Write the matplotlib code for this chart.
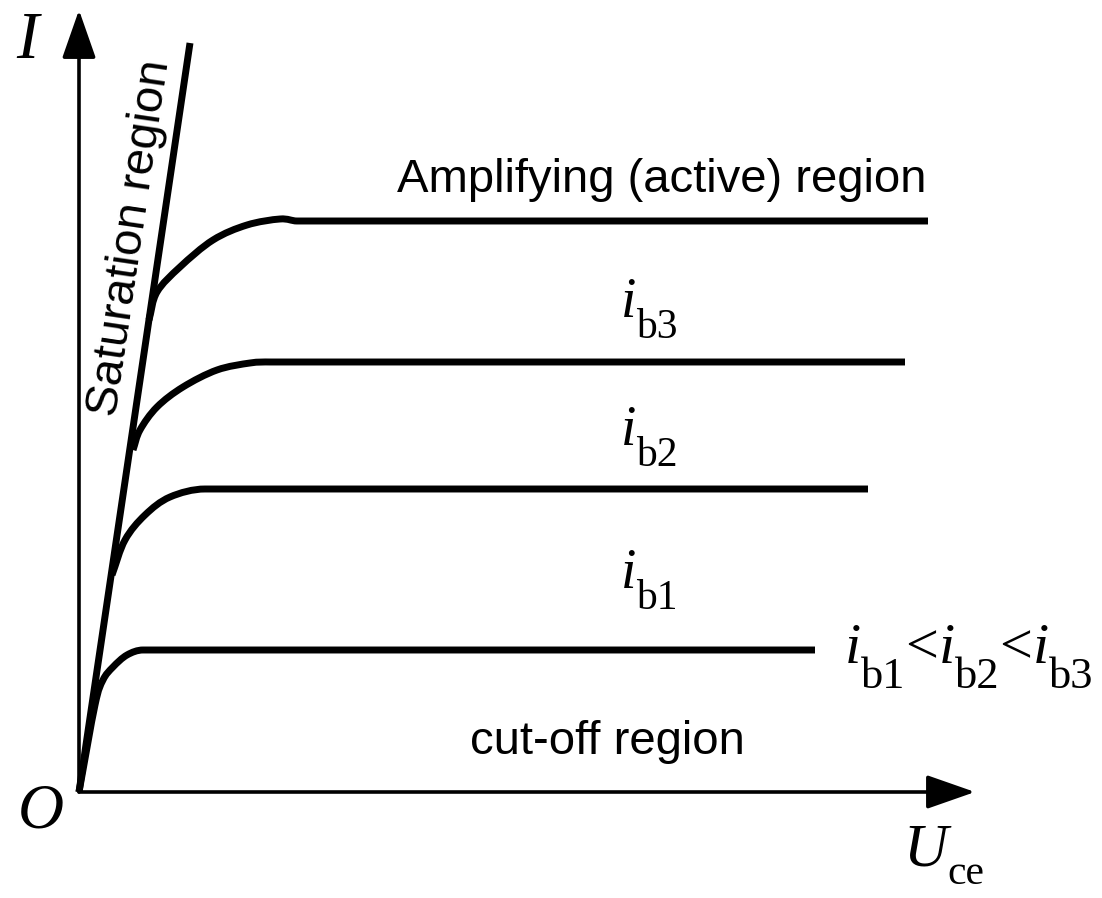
import matplotlib
matplotlib.use("Agg")
import matplotlib.pyplot as plt
import matplotlib.transforms as mtransforms
from matplotlib.path import Path
from matplotlib.patches import PathPatch
import numpy as np

plt.rcParams["font.family"] = ["Liberation Sans", "DejaVu Sans"]

# Saturation boundary (straight line from the origin)
sat_u = [0.0, 11.1]
sat_i = [0.0, 74.9]

# Output characteristics: knee points,
# followed by the end of the flat (active-region) part
curve1_u = [0.0, 1.6, 2.4, 3.4, 4.8, 6.4, 73.6]
curve1_i = [0.0, 8.7, 11.2, 12.5, 13.7, 14.2, 14.2]

curve2_u = [3.3, 4.6, 6.6, 9.1, 12.6, 78.9]
curve2_i = [21.7, 25.2, 27.7, 29.5, 30.3, 30.3]

curve3_u = [5.4, 6.1, 7.8, 10.4, 13.8, 17.1, 19.1, 82.6]
curve3_i = [34.2, 36.2, 38.5, 40.5, 42.2, 42.9, 43.0, 43.0]

curve4_u = [7.0, 7.8, 10.1, 13.4, 16.8, 20.1, 21.8, 84.9]
curve4_i = [47.2, 50.0, 52.5, 55.2, 56.7, 57.3, 57.1, 57.1]

curves = [(curve1_u, curve1_i), (curve2_u, curve2_i),
          (curve3_u, curve3_i), (curve4_u, curve4_i)]

fig = plt.figure(figsize=(11.02, 8.98), dpi=100)
ax = fig.add_axes([0, 0, 1, 1])
ax.set_xlim(-7.9, 102.3)
ax.set_ylim(-10.6, 79.2)
ax.axis("off")


def knee_path(u, i):
    """Smooth cubic path through the knee points, then straight to the end."""
    pts = np.column_stack([u, i]).astype(float)
    knee, end = pts[:-1], pts[-1]
    n = len(knee)
    tang = np.zeros_like(knee)
    tang[0] = knee[1] - knee[0]
    for k in range(1, n - 1):
        tang[k] = (knee[k + 1] - knee[k - 1]) / 2.0
    tang[-1] = [np.hypot(*(knee[-1] - knee[-2])), 0.0]
    verts = [knee[0]]
    codes = [Path.MOVETO]
    for k in range(n - 1):
        verts += [knee[k] + tang[k] / 3.0, knee[k + 1] - tang[k + 1] / 3.0,
                  knee[k + 1]]
        codes += [Path.CURVE4] * 3
    verts.append(end)
    codes.append(Path.LINETO)
    return Path(verts, codes)


def chain(x, y, pieces):
    """Place text pieces one after another on a common baseline."""
    renderer = fig.canvas.get_renderer()
    dx = 0.0
    for s, kw, dy in pieces:
        tr = mtransforms.offset_copy(ax.transData, fig=fig, x=dx, y=dy,
                                     units="points")
        t = ax.text(x, y, s, transform=tr, ha="left", va="baseline", **kw)
        w = t.get_window_extent(renderer).width
        dx += w * 72.0 / fig.dpi


# Coordinate axes with arrow heads
arrow = dict(arrowstyle="-|>,head_length=3.0,head_width=1.05",
             mutation_scale=10, lw=2.6, color="black",
             shrinkA=0, shrinkB=0)
ax.annotate("", xy=(0, 78.2), xytext=(0, 0), arrowprops=arrow)
ax.annotate("", xy=(89.6, 0), xytext=(0, 0), arrowprops=arrow)

# Saturation line and the family of curves
ax.plot(sat_u, sat_i, color="black", lw=5.0, solid_capstyle="butt")
for u, i in curves:
    ax.add_patch(PathPatch(knee_path(u, i), facecolor="none",
                           edgecolor="black", lw=5.0, capstyle="butt",
                           joinstyle="round"))

serif = ["Liberation Serif", "DejaVu Serif"]


def it(size):
    return dict(family=serif, style="italic", fontsize=size, color="black")


def rm(size):
    return dict(family=serif, fontsize=size, color="black")


ax.text(-5.2, 75.0, "I", family=serif, style="italic", fontsize=48,
        ha="center", va="center")
ax.text(-3.8, -2.1, "O", family=serif, style="italic", fontsize=46,
        ha="center", va="center")
chain(82.4, -7.3, [("U", it(44), 0), ("ce", rm(30), -14)])

ax.text(5.1, 55.4, "Saturation region", fontsize=34, rotation=81.6,
        rotation_mode="anchor", ha="center", va="center")
ax.text(58.3, 61.2, "Amplifying (active) region", fontsize=34,
        ha="center", va="center")
ax.text(52.8, 5.0, "cut-off region", fontsize=34, ha="center", va="center")

for base, sub in [(47.5, "b3"), (34.7, "b2"), (20.4, "b1")]:
    chain(54.2, base, [("i", it(40), 0), (sub, rm(30), -15)])

chain(76.6, 12.9, [("i", it(42), 0), ("b1", rm(32), -18),
                   ("<", rm(42), 0),
                   ("i", it(42), 0), ("b2", rm(32), -18),
                   ("<", rm(42), 0),
                   ("i", it(42), 0), ("b3", rm(32), -18)])

fig.savefig("out.png", dpi=100)
